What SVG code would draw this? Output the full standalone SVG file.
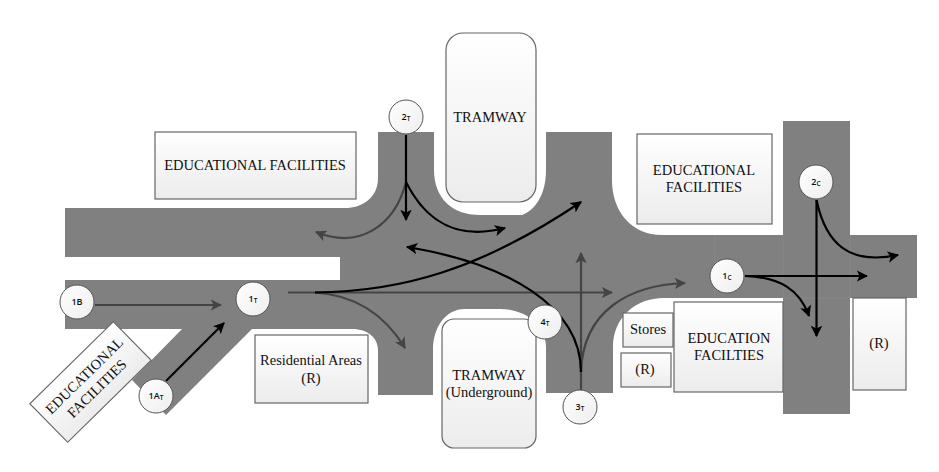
<svg xmlns="http://www.w3.org/2000/svg" width="939" height="472" viewBox="0 0 939 472">
<style>
.road{fill:#808080}
.seam{stroke:#878787;stroke-width:1;fill:none}
.box{fill:url(#g);stroke:#666;stroke-width:1.2}
.lbl{font-family:"Liberation Serif",serif;font-size:14.5px;fill:#111;text-anchor:middle}
.n{fill:url(#g2);stroke:#555;stroke-width:1}
.nt{font-family:"Open Sans",sans-serif;font-size:9px;font-weight:600;fill:#111;text-anchor:middle}
.sub{font-size:6.5px}
.k{fill:none;stroke:#000;stroke-width:2.2}
.d{fill:none;stroke:#444;stroke-width:2.2}
</style>
<defs>
<linearGradient id="g" x1="0" y1="0" x2="0" y2="1"><stop offset="0" stop-color="#fff"/><stop offset="1" stop-color="#ececec"/></linearGradient>
<linearGradient id="g2" x1="0" y1="0" x2="1" y2="1"><stop offset="0" stop-color="#fff"/><stop offset="1" stop-color="#eee"/></linearGradient>
<marker id="ak" viewBox="0 0 10 10" refX="9" refY="5" markerWidth="5.2" markerHeight="5.2" orient="auto" markerUnits="strokeWidth"><path d="M0,0L10,5L0,10L2.5,5Z" fill="#000"/></marker>
<marker id="ad" viewBox="0 0 10 10" refX="9" refY="5" markerWidth="5.2" markerHeight="5.2" orient="auto" markerUnits="strokeWidth"><path d="M0,0L10,5L0,10L2.5,5Z" fill="#444"/></marker>
</defs>
<rect width="939" height="472" fill="#fff"/>
<g id="roads">
<path class="road" d="M65,208H345C362,208 378,198 378,178V132H434V170C434,198 452,215 480,215H522C535,210 546,195 546,170V132H612V180C612,212 632,235 662,235H783V121H850V235H917V298H850V414H783V298H664C635,298 613,318 613,347V393H546V347C546,325 525,309 500,309H465C445,309 433,328 433,350V395H378V350C378,338 368,329 352,329H252L166,415L132,380L182,329H65V280H340V257H65Z"/>
<path class="seam" d="M715,235V298M783,235V298M850,235V298M783,298H850"/>
</g>
<g id="box-edu-top"><rect class="box" x="155" y="132" width="201" height="67"/><text class="lbl" x="255" y="170">EDUCATIONAL FACILITIES</text></g>
<g id="box-tramway"><rect class="box" x="446" y="33" width="90" height="169" rx="17"/><text class="lbl" x="490" y="122">TRAMWAY</text></g>
<g id="box-edu-right"><rect class="box" x="637" y="134" width="135" height="90"/><text class="lbl" x="704" y="175">EDUCATIONAL</text><text class="lbl" x="704" y="192">FACILITIES</text></g>
<g id="box-residential"><rect class="box" x="255" y="335" width="113" height="68"/><text class="lbl" x="311" y="365">Residential Areas</text><text class="lbl" x="311" y="383">(R)</text></g>
<g id="box-edu-rot"><g transform="translate(90.500 382) rotate(-44.500)"><rect class="box" x="-58.500" y="-27" width="117" height="54"/><text class="lbl" x="0" y="-4">EDUCATIONAL</text><text class="lbl" x="0" y="14">FACILITIES</text></g></g>
<g id="box-tramway-ug"><rect class="box" x="442" y="319" width="94" height="129" rx="12"/><text class="lbl" x="489" y="380">TRAMWAY</text><text class="lbl" x="489" y="397">(Underground)</text></g>
<g id="box-stores"><rect class="box" x="623" y="313" width="50" height="34"/><text class="lbl" x="648" y="334">Stores</text></g>
<g id="box-r1"><rect class="box" x="621" y="353" width="50" height="34"/><text class="lbl" x="645" y="374">(R)</text></g>
<g id="box-education"><rect class="box" x="674" y="302" width="109" height="90"/><text class="lbl" x="729" y="343">EDUCATION</text><text class="lbl" x="729" y="360">FACILTIES</text></g>
<g id="box-r2"><rect class="box" x="853" y="298" width="53" height="92"/><text class="lbl" x="879" y="348">(R)</text></g>
<g id="connectors">
<path class="d" d="M95,305H221" marker-end="url(#ad)"/>
<path class="k" d="M166,381L224,323" marker-end="url(#ak)"/>
<path class="d" d="M288,292.500H612" marker-end="url(#ad)"/>
<path class="d" d="M315,292.500C355,295 385,315 405,348" marker-end="url(#ad)"/>
<path class="k" d="M315,292.500C400,292 480,270 581,202" marker-end="url(#ak)"/>
<path class="d" d="M406,182C395,225 360,250 316,232" marker-end="url(#ad)"/>
<path class="k" d="M406,135V220" marker-end="url(#ak)"/>
<path class="k" d="M406,182C425,220 455,241 505,228" marker-end="url(#ak)"/>
<path class="d" d="M581,392V253" marker-end="url(#ad)"/>
<path class="d" d="M581,372C583,310 630,285 685,283" marker-end="url(#ad)"/>
<path class="k" d="M581,372C581,305 505,263 407,247" marker-end="url(#ak)"/>
<path class="k" d="M745,276H867" marker-end="url(#ak)"/>
<path class="k" d="M745,276C780,277 800,290 809,316" marker-end="url(#ak)"/>
<path class="k" d="M816.500,200V336" marker-end="url(#ak)"/>
<path class="k" d="M816.500,200C826,245 850,265 898,255" marker-end="url(#ak)"/>
</g>
<g id="node-1B"><circle class="n" cx="77" cy="302" r="17"/><text class="nt" x="77" y="305">1B</text></g>
<g id="node-1T"><circle class="n" cx="253" cy="299" r="17"/><text class="nt" x="253" y="302">1<tspan class="sub" dy="1">T</tspan></text></g>
<g id="node-1AT"><circle class="n" cx="156" cy="396" r="17"/><text class="nt" x="156" y="399">1A<tspan class="sub" dy="1">T</tspan></text></g>
<g id="node-2T"><circle class="n" cx="406" cy="117" r="17"/><text class="nt" x="406" y="120">2<tspan class="sub" dy="1">T</tspan></text></g>
<g id="node-3T"><circle class="n" cx="580" cy="407" r="17"/><text class="nt" x="580" y="410">3<tspan class="sub" dy="1">T</tspan></text></g>
<g id="node-4T"><circle class="n" cx="545" cy="322" r="17"/><text class="nt" x="545" y="325">4<tspan class="sub" dy="1">T</tspan></text></g>
<g id="node-1C"><circle class="n" cx="727" cy="276" r="17"/><text class="nt" x="727" y="279">1<tspan class="sub" dy="1">C</tspan></text></g>
<g id="node-2C"><circle class="n" cx="816" cy="182" r="17"/><text class="nt" x="816" y="185">2<tspan class="sub" dy="1">C</tspan></text></g>
</svg>
